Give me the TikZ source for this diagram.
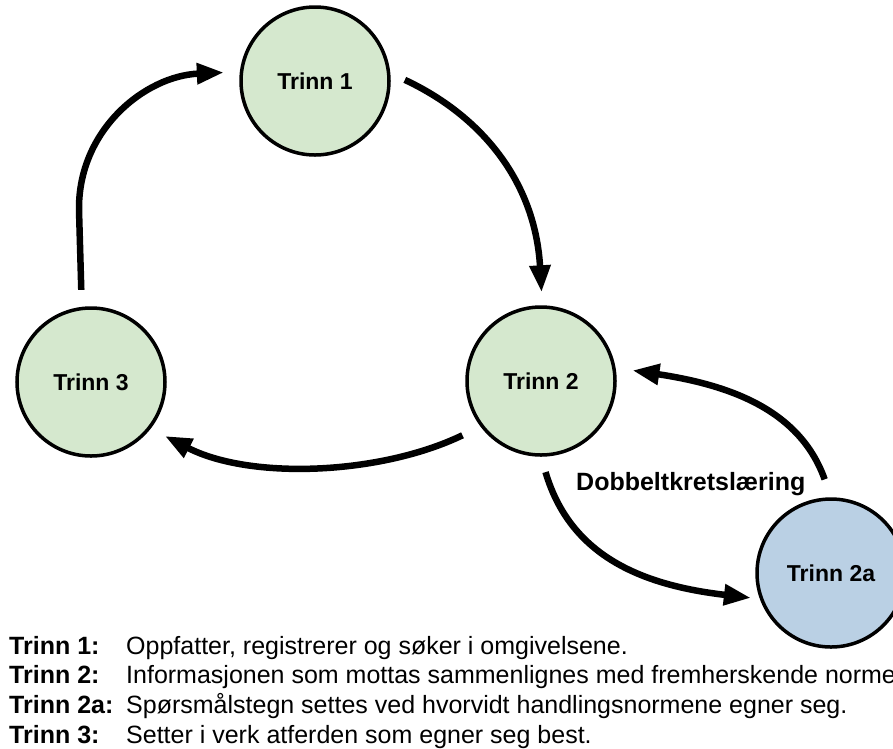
\documentclass[tikz,border=0pt]{standalone}
\usepackage{fontspec}
\setmainfont{Liberation Sans}
\usetikzlibrary{arrows.meta}
\definecolor{stepgreen}{RGB}{213,232,206}
\definecolor{stepblue}{RGB}{186,208,228}
\begin{document}
\begin{tikzpicture}[x=1pt,y=-1pt,
  stage/.style={circle, draw=black, line width=3.5pt, minimum size=148pt,
    inner sep=0pt, font=\fontsize{23}{27}\selectfont\bfseries},
  flow/.style={line width=6.5pt, -{Triangle[length=27pt,width=20pt]}},
  note/.style={anchor=base west, inner sep=0pt, font=\fontsize{25}{30}\selectfont\bfseries},
  legendkey/.style={anchor=base west, inner sep=0pt, font=\fontsize{25}{30}\selectfont\bfseries},
  legendtext/.style={anchor=base west, inner sep=0pt, font=\fontsize{25}{30}\selectfont}]
\path[use as bounding box] (0,0) rectangle (893,748);
\clip (0,0) rectangle (893,748);

% stages of the loop
\node[stage, fill=stepgreen] (t1) at (315,81) {Trinn 1};
\node[stage, fill=stepgreen] (t2) at (541,381) {Trinn 2};
\node[stage, fill=stepgreen] (t3) at (91,382) {Trinn 3};
\node[stage, fill=stepblue] (t2a) at (831,573) {Trinn 2a};

% single loop
\draw[flow, shorten <=17pt, shorten >=16pt]
  (t3.97) -- (79,210) .. controls (78,130) and (145,76) .. (t1.173);
\draw[flow, shorten <=16pt, shorten >=13pt]
  (t1.6) .. controls (480,115) and (535,180) .. (t2.89);
\draw[flow, shorten <=20pt, shorten >=16pt]
  (t2.217) .. controls (380,475) and (250,480) .. (t3.322);

% double loop
\draw[flow, shorten <=16pt, shorten >=9pt]
  (t2.270) .. controls (570,555) and (640,585) .. (t2a.200);
\draw[flow, shorten <=19pt, shorten >=17pt]
  (t2a.90) .. controls (800,410) and (730,385) .. (t2.10);
\node[note] (dk) at (576,490) {Dobbeltkretslæring};

% legend
\node[legendkey] (k1) at (9,654) {Trinn 1:};
\node[legendkey] (k2) at (9,683.7) {Trinn 2:};
\node[legendkey] (k3) at (9,713.4) {Trinn 2a:};
\node[legendkey] (k4) at (9,743) {Trinn 3:};
\node[legendtext] (d1) at (126,654) {Oppfatter, registrerer og søker i omgivelsene.};
\node[legendtext] (d2) at (126,683.7) {Informasjonen som mottas sammenlignes med fremherskende normer};
\node[legendtext] (d3) at (126,713.4) {Spørsmålstegn settes ved hvorvidt handlingsnormene egner seg.};
\node[legendtext] (d4) at (126,743) {Setter i verk atferden som egner seg best.};
\end{tikzpicture}
\end{document}
